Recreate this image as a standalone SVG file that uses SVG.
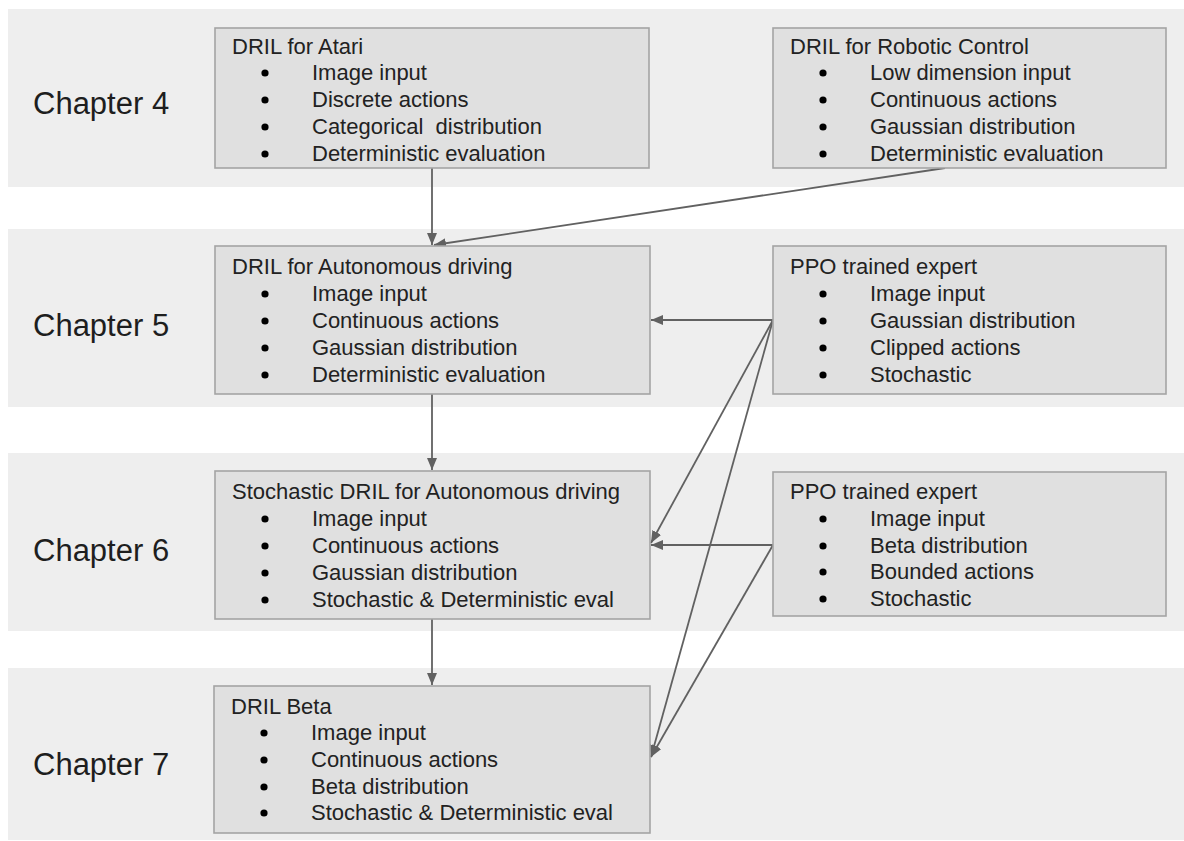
<svg xmlns="http://www.w3.org/2000/svg" width="1184" height="841" viewBox="0 0 1184 841">
  <defs>
    <marker id="arrow" viewBox="0 0 12 10" refX="12" refY="5" markerWidth="12" markerHeight="10" markerUnits="userSpaceOnUse" orient="auto">
      <path d="M0,0 L12,5 L0,10 Z" fill="#616161"/>
    </marker>
    <style>
      .band { fill: #eeeeee; }
      .box { fill: #e0e0e0; stroke: #a4a4a4; stroke-width: 1.6; }
      .chap { font-family: "Liberation Sans", Arial, sans-serif; font-size: 31px; fill: #1e1e1e; }
      .t { font-family: "Liberation Sans", Arial, sans-serif; font-size: 22px; fill: #222222; }
      .dot { fill: #000000; }
      .edge { stroke: #616161; stroke-width: 1.8; fill: none; marker-end: url(#arrow); }
    </style>
  </defs>

  <rect width="1184" height="841" fill="#ffffff"/>

  <!-- chapter bands -->
  <g id="bands">
    <rect class="band" x="8" y="9" width="1176" height="178"/>
    <rect class="band" x="8" y="229" width="1176" height="178"/>
    <rect class="band" x="8" y="453" width="1176" height="178"/>
    <rect class="band" x="8" y="668" width="1176" height="172"/>
  </g>

  <g id="chapter-labels">
    <text class="chap" x="33" y="114">Chapter 4</text>
    <text class="chap" x="33" y="336">Chapter 5</text>
    <text class="chap" x="33" y="561">Chapter 6</text>
    <text class="chap" x="33" y="775">Chapter 7</text>
  </g>

  <!-- connectors -->
  <g id="connectors">
    <line class="edge" x1="432" y1="168" x2="432" y2="245"/>
    <line class="edge" x1="945" y1="168" x2="434" y2="245"/>
    <line class="edge" x1="773" y1="320" x2="651" y2="320"/>
    <line class="edge" x1="773" y1="320" x2="651" y2="543"/>
    <line class="edge" x1="773" y1="320" x2="651" y2="757"/>
    <line class="edge" x1="432" y1="394" x2="432" y2="470"/>
    <line class="edge" x1="773" y1="545" x2="651" y2="545"/>
    <line class="edge" x1="773" y1="545" x2="651" y2="757"/>
    <line class="edge" x1="432" y1="619" x2="432" y2="685"/>
  </g>

  <!-- Chapter 4 -->
  <g id="dril-atari">
    <rect class="box" x="215" y="28" width="434" height="140"/>
    <text class="t" x="232" y="54">DRIL for Atari</text>
    <circle class="dot" cx="265" cy="73" r="3.6"/>
    <text class="t" x="312" y="80">Image input</text>
    <circle class="dot" cx="265" cy="100" r="3.6"/>
    <text class="t" x="312" y="107">Discrete actions</text>
    <circle class="dot" cx="265" cy="127" r="3.6"/>
    <text class="t" x="312" y="134" xml:space="preserve">Categorical  distribution</text>
    <circle class="dot" cx="265" cy="154" r="3.6"/>
    <text class="t" x="312" y="161">Deterministic evaluation</text>
  </g>

  <g id="dril-robotic">
    <rect class="box" x="773" y="28" width="393" height="140"/>
    <text class="t" x="790" y="54">DRIL for Robotic Control</text>
    <circle class="dot" cx="823" cy="73" r="3.6"/>
    <text class="t" x="870" y="80">Low dimension input</text>
    <circle class="dot" cx="823" cy="100" r="3.6"/>
    <text class="t" x="870" y="107">Continuous actions</text>
    <circle class="dot" cx="823" cy="127" r="3.6"/>
    <text class="t" x="870" y="134">Gaussian distribution</text>
    <circle class="dot" cx="823" cy="154" r="3.6"/>
    <text class="t" x="870" y="161">Deterministic evaluation</text>
  </g>

  <!-- Chapter 5 -->
  <g id="dril-autonomous">
    <rect class="box" x="215" y="246" width="435" height="148"/>
    <text class="t" x="232" y="274">DRIL for Autonomous driving</text>
    <circle class="dot" cx="265" cy="294" r="3.6"/>
    <text class="t" x="312" y="301">Image input</text>
    <circle class="dot" cx="265" cy="321" r="3.6"/>
    <text class="t" x="312" y="328">Continuous actions</text>
    <circle class="dot" cx="265" cy="348" r="3.6"/>
    <text class="t" x="312" y="355">Gaussian distribution</text>
    <circle class="dot" cx="265" cy="375" r="3.6"/>
    <text class="t" x="312" y="382">Deterministic evaluation</text>
  </g>

  <g id="ppo-expert-gaussian">
    <rect class="box" x="773" y="246" width="393" height="148"/>
    <text class="t" x="790" y="274">PPO trained expert</text>
    <circle class="dot" cx="823" cy="294" r="3.6"/>
    <text class="t" x="870" y="301">Image input</text>
    <circle class="dot" cx="823" cy="321" r="3.6"/>
    <text class="t" x="870" y="328">Gaussian distribution</text>
    <circle class="dot" cx="823" cy="348" r="3.6"/>
    <text class="t" x="870" y="355">Clipped actions</text>
    <circle class="dot" cx="823" cy="375" r="3.6"/>
    <text class="t" x="870" y="382">Stochastic</text>
  </g>

  <!-- Chapter 6 -->
  <g id="stochastic-dril">
    <rect class="box" x="215" y="471" width="435" height="148"/>
    <text class="t" x="232" y="499">Stochastic DRIL for Autonomous driving</text>
    <circle class="dot" cx="265" cy="519" r="3.6"/>
    <text class="t" x="312" y="526">Image input</text>
    <circle class="dot" cx="265" cy="546" r="3.6"/>
    <text class="t" x="312" y="553">Continuous actions</text>
    <circle class="dot" cx="265" cy="573" r="3.6"/>
    <text class="t" x="312" y="580">Gaussian distribution</text>
    <circle class="dot" cx="265" cy="600" r="3.6"/>
    <text class="t" x="312" y="607">Stochastic &amp; Deterministic eval</text>
  </g>

  <g id="ppo-expert-beta">
    <rect class="box" x="773" y="472" width="393" height="144"/>
    <text class="t" x="790" y="499">PPO trained expert</text>
    <circle class="dot" cx="823" cy="519" r="3.6"/>
    <text class="t" x="870" y="526">Image input</text>
    <circle class="dot" cx="823" cy="546" r="3.6"/>
    <text class="t" x="870" y="553">Beta distribution</text>
    <circle class="dot" cx="823" cy="572" r="3.6"/>
    <text class="t" x="870" y="579">Bounded actions</text>
    <circle class="dot" cx="823" cy="599" r="3.6"/>
    <text class="t" x="870" y="606">Stochastic</text>
  </g>

  <!-- Chapter 7 -->
  <g id="dril-beta">
    <rect class="box" x="214" y="686" width="436" height="147"/>
    <text class="t" x="231" y="714">DRIL Beta</text>
    <circle class="dot" cx="264" cy="733" r="3.6"/>
    <text class="t" x="311" y="740">Image input</text>
    <circle class="dot" cx="264" cy="760" r="3.6"/>
    <text class="t" x="311" y="767">Continuous actions</text>
    <circle class="dot" cx="264" cy="787" r="3.6"/>
    <text class="t" x="311" y="794">Beta distribution</text>
    <circle class="dot" cx="264" cy="813" r="3.6"/>
    <text class="t" x="311" y="820">Stochastic &amp; Deterministic eval</text>
  </g>
</svg>
